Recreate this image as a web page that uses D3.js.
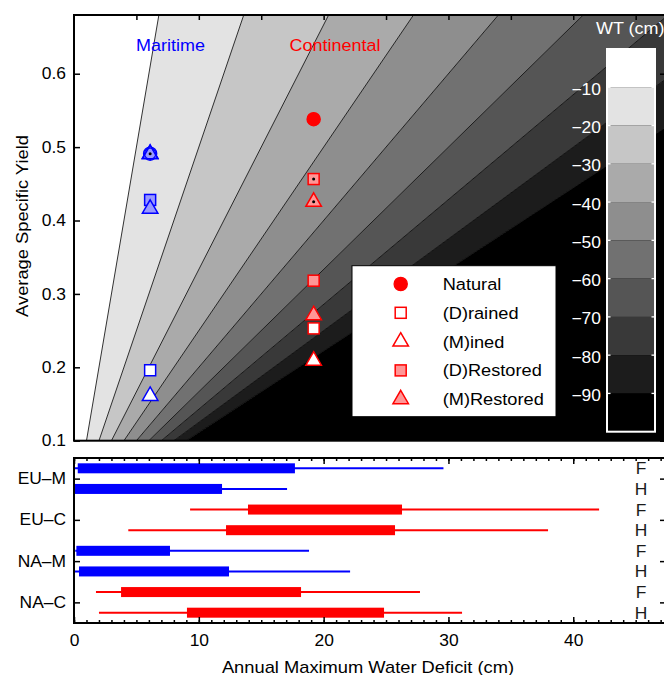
<!DOCTYPE html>
<html><head><meta charset="utf-8">
<script src="https://cdn.jsdelivr.net/npm/d3@7"></script>
<style>
body{margin:0;background:#fff;}
svg{display:block;font-family:"Liberation Sans",Arial,Helvetica,sans-serif;}
</style></head><body>
<svg id="chart" width="664" height="675"></svg>
<script>
// ---------------- data ----------------
const wtLevels = [-10, -20, -30, -40, -50, -60, -70, -80, -90];
const wtTickLabels = ["\u221210", "\u221220", "\u221230", "\u221240", "\u221250", "\u221260", "\u221270", "\u221280", "\u221290"];
const siteGroups = ["Maritime", "Continental"];
const siteDeficit = [6.1, 19.2];
const naturalSy = [0.491, 0.538];
const drainedSy = [0.196, 0.253];
const minedSy = [0.161, 0.209];
const dRestoredSy = [0.428, 0.318];
const mRestoredSy = [0.416, 0.271];
const dRestoredDotSy = [null, 0.4565];
const mRestoredDotSy = [0.491, 0.4255];
const legendLabels = ["Natural", "(D)rained", "(M)ined", "(D)Restored", "(M)Restored"];

const regions = ["EU\u2013M", "EU\u2013C", "NA\u2013M", "NA\u2013C"];
const rowTypes = ["F", "H", "F", "H", "F", "H", "F", "H"];
const rowClimate = ["M", "M", "C", "C", "M", "M", "C", "C"];
const whiskerLo = [0, 0, 9.3, 4.35, 0.1, 0, 1.76, 2.0];
const boxLo = [0.3, 0, 13.94, 12.18, 0.19, 0.4, 3.77, 9.05];
const boxHi = [17.7, 11.86, 26.28, 25.72, 7.69, 12.42, 18.19, 24.84];
const whiskerHi = [29.6, 17.07, 42.07, 37.98, 18.83, 22.12, 27.72, 31.09];

const topXTicks = [5, 10, 15, 20, 25, 30, 35, 40, 45];
const topYTicks = [0.1, 0.2, 0.3, 0.4, 0.5, 0.6];
const bottomXTicks = [0, 10, 20, 30, 40];
const bottomMinorTicks = d3.range(0, 48, 1);
const regionTicks = [1.5, 3.5, 5.5, 7.5];

// ---------------- styles ----------------
const FONT = '"Liberation Sans",Arial,Helvetica,sans-serif';
const SX = 1.09;
const blue = "#0000ff", blueLight = "#9999ff";
const red = "#ff0000", redLight = "#ff9696";
const climateColor = {M: blue, C: red};
const groupStroke = [blue, red];
const groupLight = [blueLight, redLight];

// ---------------- layout / scales ----------------
const L = 74, R = 665;
const x = d3.scaleLinear().domain([0, 47.35]).range([L, R]);
const yTop = d3.scaleLinear().domain([0.1, 0.68]).range([440.7, 15]);
const yBot = d3.scaleLinear().domain([0.5, 8.5]).range([458, 623]);
const cbar = d3.scaleLinear().domain([0, -100]).range([49, 431.7]);

const svg = d3.select("#chart");
const defs = svg.append("defs");
defs.append("clipPath").attr("id", "clipTop").append("rect")
  .attr("x", L).attr("y", yTop.range()[1]).attr("width", R - L).attr("height", yTop.range()[0] - yTop.range()[1]);
defs.append("clipPath").attr("id", "clipBot").append("rect")
  .attr("x", L).attr("y", 458).attr("width", R - L).attr("height", 165);

function stext(g, px, py, str, anchor, size, fill) {
  return g.append("text")
    .attr("transform", `translate(${px},${py}) scale(${SX},1)`)
    .attr("text-anchor", anchor).attr("font-size", size)
    .attr("fill", fill).attr("font-family", FONT).text(str);
}

// ---------------- top panel: contour bands ----------------
const topG = svg.append("g");
const bandG = topG.append("g").attr("clip-path", "url(#clipTop)");
const bounds = [0, ...wtLevels, -100];
const y0 = yTop.domain()[0], y1 = yTop.domain()[1];
for (let k = 0; k < bounds.length - 1; k++) {
  const lo = -bounds[k];
  const hi = k === bounds.length - 2 ? 100000 : -bounds[k + 1];
  const pts = [[lo * y0, y0], [lo * y1, y1], [hi * y1, y1], [hi * y0, y0]]
    .map(p => [x(p[0]), yTop(p[1])]);
  const level = Math.round(255 * (1 - k / 9));
  bandG.append("polygon").attr("points", pts.map(p => p.join(",")).join(" "))
    .attr("fill", d3.rgb(level, level, level));
}
// contour lines
wtLevels.forEach(lv => {
  bandG.append("line")
    .attr("x1", x(-lv * y0)).attr("y1", yTop(y0))
    .attr("x2", x(-lv * y1)).attr("y2", yTop(y1))
    .attr("stroke", "#000").attr("stroke-width", 0.8);
});

// group labels
siteGroups.forEach((s, i) => {
  const gx = i === 0 ? 170.5 : 335;
  stext(topG, gx, 50.5, s, "middle", 16.5, groupStroke[i]);
});

// ---------------- markers ----------------
const mk = topG.append("g");
function drawMarker(g, type, cx, cy, stroke, fill) {
  if (type === "circle") {
    g.append("circle").attr("cx", cx).attr("cy", cy).attr("r", 6.6)
      .attr("fill", fill).attr("stroke", stroke).attr("stroke-width", 1.3);
  } else if (type === "square") {
    const s = 11;
    g.append("rect").attr("x", cx - s / 2).attr("y", cy - s / 2).attr("width", s).attr("height", s)
      .attr("fill", fill).attr("stroke", stroke).attr("stroke-width", 1.5);
  } else if (type === "triangle") {
    const s = 15.5, h = s * Math.sqrt(3) / 2;
    const p = [[cx, cy - 2 * h / 3], [cx + s / 2, cy + h / 3], [cx - s / 2, cy + h / 3]];
    g.append("polygon").attr("points", p.map(q => q.join(",")).join(" "))
      .attr("fill", fill).attr("stroke", stroke).attr("stroke-width", 1.5).attr("stroke-linejoin", "miter");
  } else if (type === "dot") {
    g.append("circle").attr("cx", cx).attr("cy", cy).attr("r", 1.5).attr("fill", "#000");
  }
}
siteGroups.forEach((s, i) => {
  const cx = x(siteDeficit[i]);
  const st = groupStroke[i], lt = groupLight[i];
  const natFill = i === 0 ? lt : st;
  drawMarker(mk, "circle", cx, yTop(naturalSy[i]), st, natFill);
  drawMarker(mk, "square", cx, yTop(dRestoredSy[i]), st, lt);
  drawMarker(mk, "triangle", cx, yTop(mRestoredSy[i]), st, lt);
  drawMarker(mk, "square", cx, yTop(drainedSy[i]), st, "#fff");
  drawMarker(mk, "triangle", cx, yTop(minedSy[i]), st, "#fff");
  if (dRestoredDotSy[i] !== null) {
    drawMarker(mk, "square", cx, yTop(dRestoredDotSy[i]), st, lt);
    drawMarker(mk, "dot", cx, yTop(dRestoredDotSy[i]));
  }
  if (mRestoredDotSy[i] !== null) {
    drawMarker(mk, "triangle", cx, yTop(mRestoredDotSy[i]), st, lt);
    if (i === 0) {
      mk.append("circle").attr("cx", cx).attr("cy", yTop(mRestoredDotSy[i])).attr("r", 5.6)
        .attr("fill", lt).attr("stroke", st).attr("stroke-width", 1.2);
      drawMarker(mk, "triangle", cx, yTop(mRestoredDotSy[i]) + 0.5, st, "none");
    }
    drawMarker(mk, "dot", cx, yTop(mRestoredDotSy[i]));
  }
});

// ---------------- legend ----------------
const leg = topG.append("g");
leg.append("rect").attr("x", 352).attr("y", 265.7).attr("width", 204).attr("height", 151)
  .attr("fill", "#fff").attr("stroke", "#000").attr("stroke-width", 1);
const legTypes = [["circle", red], ["square", "#fff"], ["triangle", "#fff"], ["square", redLight], ["triangle", redLight]];
legendLabels.forEach((lab, i) => {
  const ly = 284 + i * 28.8;
  drawMarker(leg, legTypes[i][0], 400.7, ly, red, legTypes[i][1]);
  stext(leg, 442.7, ly + 6, lab, "start", 16.7, "#000");
});

// ---------------- colorbar ----------------
const cb = topG.append("g");
const cbX0 = 607, cbX1 = 655;
for (let k = 0; k < bounds.length - 1; k++) {
  const level = Math.round(255 * (1 - k / 9));
  cb.append("rect").attr("x", cbX0).attr("y", cbar(bounds[k]))
    .attr("width", cbX1 - cbX0).attr("height", cbar(bounds[k + 1]) - cbar(bounds[k]))
    .attr("fill", d3.rgb(level, level, level));
}
wtLevels.forEach((lv, i) => {
  const yy = cbar(lv);
  cb.append("line").attr("x1", cbX0).attr("x2", cbX0 + 3.5).attr("y1", yy).attr("y2", yy).attr("stroke", "#fff").attr("stroke-width", 1.3);
  cb.append("line").attr("x1", cbX1).attr("x2", cbX1 - 3.5).attr("y1", yy).attr("y2", yy).attr("stroke", "#fff").attr("stroke-width", 1.3);
  stext(cb, 601, yy + 7.5, wtTickLabels[i], "end", 16, "#fff");
});
cb.append("rect").attr("x", cbX0).attr("y", cbar(0)).attr("width", cbX1 - cbX0).attr("height", cbar(-100) - cbar(0))
  .attr("fill", "none").attr("stroke", "#fff").attr("stroke-width", 2);
stext(cb, 596, 34, "WT (cm)", "start", 16.5, "#fff");

// ---------------- top panel axes ----------------
function styleAxis(g) {
  g.attr("font-family", FONT).attr("font-size", 16);
  g.select(".domain").remove();
  g.selectAll(".tick line").attr("stroke", "#000").attr("stroke-width", 1.5);
  g.selectAll(".tick text").attr("fill", "#000").attr("transform", `scale(${SX},1)`);
}
topG.append("g").attr("transform", `translate(0,${yTop.range()[1]})`)
  .call(d3.axisTop(x).tickValues(topXTicks).tickSize(-5).tickFormat(() => "")).call(styleAxis);
topG.append("g").attr("transform", `translate(${L},0)`)
  .call(d3.axisLeft(yTop).tickValues(topYTicks).tickSize(-6).tickPadding(7.3).tickFormat(d3.format(".1f"))).call(styleAxis);
topG.append("g").attr("transform", `translate(${R},0)`)
  .call(d3.axisRight(yTop).tickValues(topYTicks).tickSize(-5).tickFormat(() => "")).call(styleAxis);
topG.append("rect").attr("x", L).attr("y", yTop.range()[1]).attr("width", R - L).attr("height", yTop.range()[0] - yTop.range()[1])
  .attr("fill", "none").attr("stroke", "#000").attr("stroke-width", 2);

// y label
topG.append("text")
  .attr("transform", `translate(27.5,226) rotate(-90) scale(${SX},1)`)
  .attr("text-anchor", "middle").attr("font-size", 16.8).attr("font-family", FONT).attr("fill", "#000")
  .text("Average Specific Yield");

// ---------------- bottom panel ----------------
const bot = svg.append("g");
const barsG = bot.append("g").attr("clip-path", "url(#clipBot)");
rowTypes.forEach((t, i) => {
  const cy = yBot(i + 1);
  const col = climateColor[rowClimate[i]];
  barsG.append("line").attr("x1", x(whiskerLo[i])).attr("x2", x(whiskerHi[i]))
    .attr("y1", cy).attr("y2", cy).attr("stroke", col).attr("stroke-width", 2);
  barsG.append("rect").attr("x", x(boxLo[i])).attr("y", cy - 5)
    .attr("width", x(boxHi[i]) - x(boxLo[i])).attr("height", 10).attr("fill", col);
  stext(bot, 641, cy + 6, t, "middle", 16, "#1a1a1a");
});

bot.append("g").attr("transform", "translate(0,623)")
  .call(d3.axisBottom(x).tickValues(bottomMinorTicks).tickSize(-3).tickFormat(() => "")).call(styleAxis);
bot.append("g").attr("transform", "translate(0,623)")
  .call(d3.axisBottom(x).tickValues(bottomXTicks).tickSize(-6).tickPadding(12)).call(styleAxis);
bot.append("g").attr("transform", "translate(0,458)")
  .call(d3.axisTop(x).tickValues(bottomMinorTicks).tickSize(-3).tickFormat(() => "")).call(styleAxis);
bot.append("g").attr("transform", "translate(0,458)")
  .call(d3.axisTop(x).tickValues(bottomXTicks).tickSize(-6).tickFormat(() => "")).call(styleAxis);
bot.append("g").attr("transform", `translate(${L},0)`)
  .call(d3.axisLeft(yBot).tickValues(regionTicks).tickSize(-6).tickPadding(7.3).tickFormat((d, i) => regions[i])).call(styleAxis);
bot.append("g").attr("transform", `translate(${R},0)`)
  .call(d3.axisRight(yBot).tickValues(regionTicks).tickSize(-5).tickFormat(() => "")).call(styleAxis);
bot.append("rect").attr("x", L).attr("y", 458).attr("width", R - L).attr("height", 165)
  .attr("fill", "none").attr("stroke", "#000").attr("stroke-width", 2);

stext(bot, 368, 672.5, "Annual Maximum Water Deficit (cm)", "middle", 16.8, "#000");
</script>
</body></html>
